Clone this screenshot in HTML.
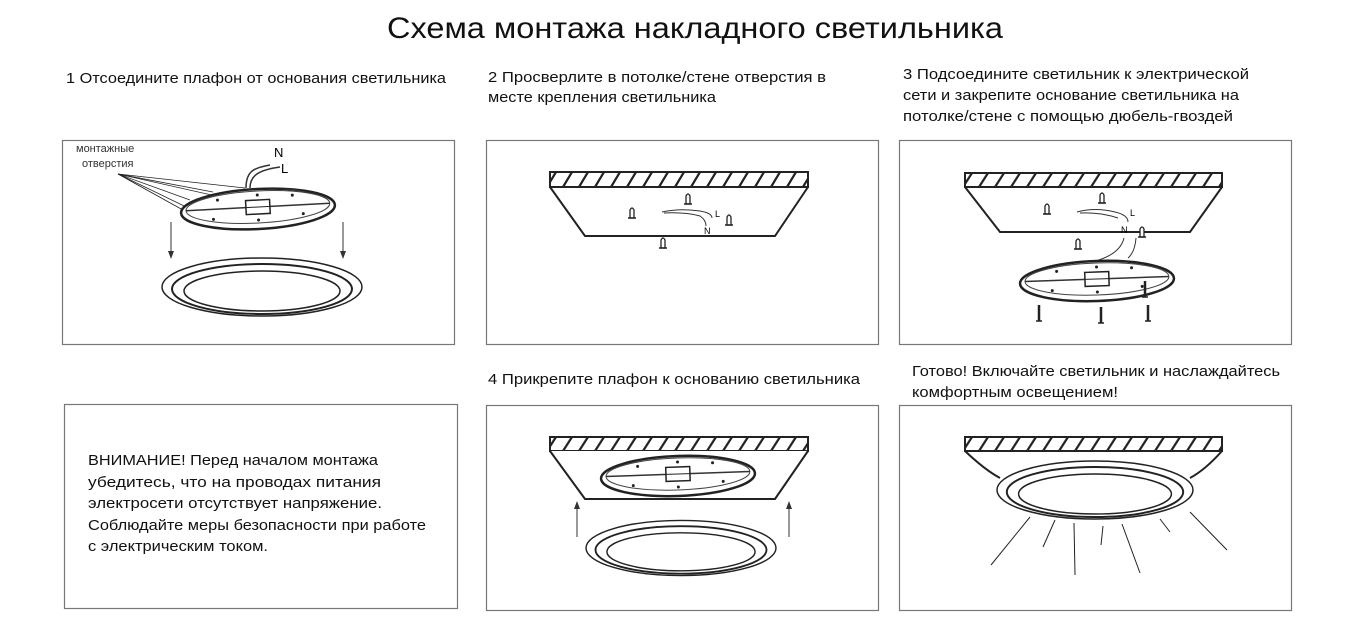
<!DOCTYPE html>
<html><head><meta charset="utf-8"><style>
html,body{margin:0;padding:0;background:#fff;}
svg{display:block;font-family:"Liberation Sans",sans-serif;}
</style></head><body>
<svg width="1350" height="629" viewBox="0 0 1350 629" xmlns="http://www.w3.org/2000/svg">
<defs>
<pattern id="h1" x="0" y="172" width="16" height="15" patternUnits="userSpaceOnUse">
<line x1="3" y1="15" x2="12" y2="0" stroke="#222" stroke-width="2.2"/>
</pattern>
<pattern id="h2" x="0" y="173" width="16" height="14" patternUnits="userSpaceOnUse">
<line x1="3" y1="14" x2="12" y2="0" stroke="#222" stroke-width="2.2"/>
</pattern>
<pattern id="h3" x="0" y="437" width="16" height="14" patternUnits="userSpaceOnUse">
<line x1="3" y1="14" x2="12" y2="0" stroke="#222" stroke-width="2.2"/>
</pattern>
<marker id="ar" markerWidth="8" markerHeight="8" refX="4" refY="4" orient="auto"><path d="M0,1 L8,4 L0,7 z" fill="#333"/></marker>
<g id="plate">
<ellipse cx="0" cy="0" rx="77" ry="20" fill="#fff" stroke="#222" stroke-width="2.5"/>
<ellipse cx="0" cy="-2" rx="72" ry="16" fill="none" stroke="#444" stroke-width="1"/>
<line x1="-72" y1="-2" x2="72" y2="-2" stroke="#333" stroke-width="1.5"/>
<rect x="-12" y="-9" width="24" height="14" fill="#fff" stroke="#222" stroke-width="1.5"/>
<line x1="-12" y1="-2" x2="12" y2="-2" stroke="#222"/>
<circle cx="-40" cy="-11" r="1.5" fill="#222"/><circle cx="35" cy="-12" r="1.5" fill="#222"/>
<circle cx="-45" cy="8" r="1.5" fill="#222"/><circle cx="45" cy="7" r="1.5" fill="#222"/>
<circle cx="0" cy="-14" r="1.5" fill="#222"/><circle cx="0" cy="11" r="1.5" fill="#222"/>
</g>
<g id="shade">
<ellipse cx="0" cy="0" rx="100" ry="29" fill="none" stroke="#222" stroke-width="1.5"/>
<ellipse cx="0" cy="2" rx="90" ry="25" fill="none" stroke="#222" stroke-width="2"/>
<ellipse cx="0" cy="4" rx="78" ry="20" fill="none" stroke="#222" stroke-width="1.5"/>
</g>
<g id="dowel"><path d="M-2,8 L-2,0 Q0,-4 2,0 L2,8 Z" fill="#fff" stroke="#222" stroke-width="1.3"/><line x1="-4" y1="8" x2="4" y2="8" stroke="#222" stroke-width="1.5"/></g>
<g id="screw"><line x1="0" y1="-8" x2="0" y2="8" stroke="#222" stroke-width="2.5"/><line x1="-3" y1="8" x2="3" y2="8" stroke="#222" stroke-width="1.5"/></g>
</defs>
<rect width="1350" height="629" fill="#fff"/>
<text x="387" y="38" font-size="30" fill="#111" textLength="616" lengthAdjust="spacingAndGlyphs">Схема монтажа накладного светильника</text>

<g font-size="15" fill="#111">
<text x="66" y="83" textLength="380" lengthAdjust="spacingAndGlyphs">1 Отсоедините плафон от основания светильника</text>
<text x="488" y="82" textLength="338" lengthAdjust="spacingAndGlyphs">2 Просверлите в потолке/стене отверстия в</text>
<text x="488" y="102" textLength="228" lengthAdjust="spacingAndGlyphs">месте крепления светильника</text>
<text x="903" y="79" textLength="346" lengthAdjust="spacingAndGlyphs">3 Подсоедините светильник к электрической</text>
<text x="903" y="100" textLength="336" lengthAdjust="spacingAndGlyphs">сети и закрепите основание светильника на</text>
<text x="903" y="121" textLength="330" lengthAdjust="spacingAndGlyphs">потолке/стене с помощью дюбель-гвоздей</text>
<text x="488" y="384" textLength="372" lengthAdjust="spacingAndGlyphs">4 Прикрепите плафон к основанию светильника</text>
<text x="912" y="376" textLength="368" lengthAdjust="spacingAndGlyphs">Готово! Включайте светильник и наслаждайтесь</text>
<text x="912" y="397" textLength="206" lengthAdjust="spacingAndGlyphs">комфортным освещением!</text>
<text x="88" y="465" textLength="290" lengthAdjust="spacingAndGlyphs">ВНИМАНИЕ! Перед началом монтажа</text>
<text x="88" y="487" textLength="293" lengthAdjust="spacingAndGlyphs">убедитесь, что на проводах питания</text>
<text x="88" y="508" textLength="294" lengthAdjust="spacingAndGlyphs">электросети отсутствует напряжение.</text>
<text x="88" y="530" textLength="338" lengthAdjust="spacingAndGlyphs">Соблюдайте меры безопасности при работе</text>
<text x="88" y="551" textLength="180" lengthAdjust="spacingAndGlyphs">с электрическим током.</text>
</g>

<g fill="none" stroke="#777" stroke-width="1.2">
<rect x="62.5" y="140.5" width="392" height="204"/>
<rect x="486.5" y="140.5" width="392" height="204"/>
<rect x="899.5" y="140.5" width="392" height="204"/>
<rect x="64.5" y="404.5" width="393" height="204"/>
<rect x="486.5" y="405.5" width="392" height="205"/>
<rect x="899.5" y="405.5" width="392" height="205"/>
</g>

<!-- panel 1 -->
<text x="76" y="152" font-size="11" fill="#333">монтажные</text>
<text x="82" y="167" font-size="11" fill="#333">отверстия</text>
<g stroke="#222" stroke-width="0.8">
<line x1="118" y1="174" x2="245" y2="188"/><line x1="118" y1="174" x2="213" y2="192"/>
<line x1="118" y1="174" x2="190" y2="200"/><line x1="118" y1="174" x2="183" y2="210"/>
<line x1="118" y1="174" x2="213" y2="220"/><line x1="118" y1="174" x2="305" y2="216"/>
</g>
<path d="M246,188 C246,170 255,168 270,165 M250,188 C250,176 258,170 280,167" stroke="#333" stroke-width="1.5" fill="none"/>
<text x="274" y="157" font-size="13">N</text><text x="281" y="173" font-size="13">L</text>
<use href="#plate" transform="translate(258,209) rotate(-3)"/>
<path d="M283,189 Q300,190 310,193" stroke="#333" fill="none"/>
<line x1="171" y1="222" x2="171" y2="255" stroke="#333" marker-end="url(#ar)"/>
<line x1="343" y1="222" x2="343" y2="255" stroke="#333" marker-end="url(#ar)"/>
<use href="#shade" transform="translate(262,287)"/>

<!-- panel 2 -->
<rect x="550" y="172" width="258" height="15" fill="url(#h1)" stroke="#222" stroke-width="2"/>
<path d="M550,187 L585,236 L775,236 L808,187" fill="none" stroke="#222" stroke-width="2"/>
<use href="#dowel" transform="translate(632,210)"/>
<use href="#dowel" transform="translate(688,196)"/>
<use href="#dowel" transform="translate(729,217)"/>
<use href="#dowel" transform="translate(663,240)"/>
<path d="M662,212 Q680,208 700,211 Q712,213 712,218 M664,213 Q685,212 700,216 Q706,220 706,226" stroke="#333" fill="none"/>
<text x="715" y="217" font-size="9">L</text><text x="704" y="234" font-size="9">N</text>

<!-- panel 3 -->
<rect x="965" y="173" width="257" height="14" fill="url(#h2)" stroke="#222" stroke-width="2"/>
<path d="M965,187 L1000,232 L1190,232 L1222,187" fill="none" stroke="#222" stroke-width="2"/>
<use href="#dowel" transform="translate(1047,206)"/>
<use href="#dowel" transform="translate(1102,195)"/>
<use href="#dowel" transform="translate(1142,229)"/>
<use href="#dowel" transform="translate(1078,241)"/>
<path d="M1077,212 Q1095,207 1115,212 Q1128,215 1128,222 M1080,213 Q1100,212 1118,218" stroke="#333" fill="none"/>
<text x="1130" y="216" font-size="9">L</text><text x="1121" y="233" font-size="9">N</text>
<path d="M1124,238 Q1120,255 1092,262 M1136,238 Q1135,252 1128,258" stroke="#333" fill="none"/>
<use href="#plate" transform="translate(1097,281) rotate(-2)"/>
<use href="#screw" transform="translate(1039,313)"/>
<use href="#screw" transform="translate(1101,315)"/>
<use href="#screw" transform="translate(1148,313)"/>
<use href="#screw" transform="translate(1145,289)"/>

<!-- panel 4 -->
<rect x="550" y="437" width="258" height="14" fill="url(#h3)" stroke="#222" stroke-width="2"/>
<path d="M550,451 L585,499 L775,499 L808,451" fill="#fff" stroke="#222" stroke-width="2"/>
<use href="#plate" transform="translate(678,476) rotate(-2)"/>
<line x1="577" y1="537" x2="577" y2="505" stroke="#333" marker-end="url(#ar)"/>
<line x1="789" y1="537" x2="789" y2="505" stroke="#333" marker-end="url(#ar)"/>
<use href="#shade" transform="translate(681,548) scale(0.95,0.95)"/>

<!-- panel 5 -->
<rect x="965" y="437" width="257" height="14" fill="url(#h3)" stroke="#222" stroke-width="2"/>
<path d="M965,451 Q985,470 1000,478 M1222,451 Q1205,470 1190,478" fill="none" stroke="#222" stroke-width="2"/>
<use href="#shade" transform="translate(1095,490) scale(0.98,1)"/>
<g stroke="#222" stroke-width="1">
<line x1="1030" y1="517" x2="991" y2="565"/>
<line x1="1055" y1="520" x2="1043" y2="547"/>
<line x1="1074" y1="523" x2="1075" y2="575"/>
<line x1="1103" y1="526" x2="1101" y2="545"/>
<line x1="1122" y1="524" x2="1140" y2="573"/>
<line x1="1160" y1="519" x2="1170" y2="532"/>
<line x1="1190" y1="512" x2="1227" y2="550"/>
</g>
</svg>
</body></html>
